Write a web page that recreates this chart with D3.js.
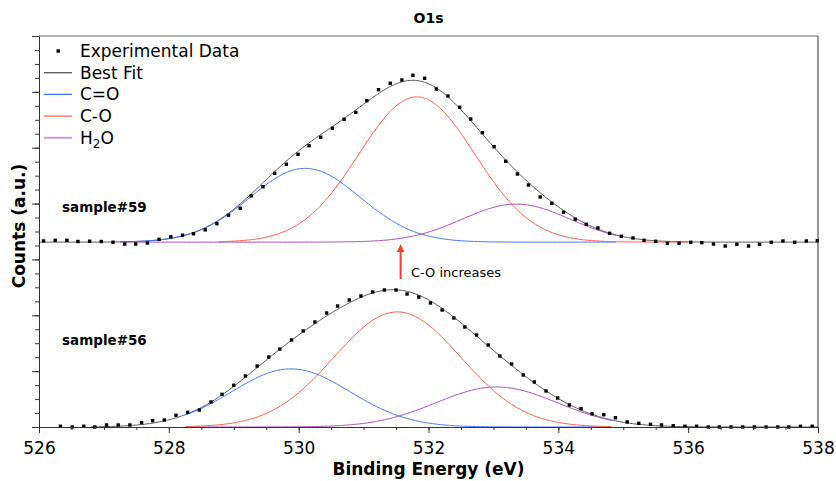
<!DOCTYPE html>
<html>
<head>
<meta charset="utf-8">
<script src="https://cdn.jsdelivr.net/npm/d3@7"></script>
<style>
    body { margin: 0; background: #fff; }
    text { font-family: "DejaVu Sans", sans-serif; }
</style>
</head>
<body>
<div id="chart"></div>
<script>
// sample#59 : binding energy (eV) and counts above its own baseline
var be59 = [526.07, 526.25, 526.43, 526.60, 526.78, 526.96, 527.14, 527.32, 527.49, 527.67,
            527.85, 528.03, 528.21, 528.38, 528.56, 528.74, 528.92, 529.10, 529.27, 529.45,
            529.63, 529.81, 529.99, 530.16, 530.34, 530.52, 530.70, 530.88, 531.05, 531.23,
            531.41, 531.59, 531.76, 531.94, 532.12, 532.30, 532.48, 532.65, 532.83, 533.01,
            533.19, 533.37, 533.54, 533.72, 533.90, 534.08, 534.26, 534.43, 534.61, 534.79,
            534.97, 535.15, 535.32, 535.50, 535.68, 535.86, 536.04, 536.21, 536.39, 536.57,
            536.75, 536.93, 537.10, 537.28, 537.46, 537.64, 537.82, 537.99];
var counts59 = [20, 32, 32, 11, 16, 11, -2, -34, -34, -16,
                50, 95, 124, 149, 220, 330, 482, 607, 829, 992,
                1232, 1393, 1572, 1726, 1877, 2038, 2199, 2324, 2532, 2729,
                2843, 2902, 2987, 2933, 2741, 2616, 2414, 2204, 1959, 1708,
                1447, 1219, 1023, 808, 695, 536, 410, 319, 253, 158,
                104, 74, 32, 15, -21, -21, -3, -10, -34, -70,
                -39, -70, -39, -3, 20, -3, 20, 25];

// sample#56
var be56 = [526.33, 526.51, 526.69, 526.86, 527.04, 527.22, 527.40, 527.58, 527.75, 527.93,
            528.11, 528.29, 528.47, 528.65, 528.82, 529.00, 529.18, 529.36, 529.54, 529.71,
            529.89, 530.07, 530.25, 530.43, 530.60, 530.78, 530.96, 531.14, 531.32, 531.50,
            531.67, 531.85, 532.03, 532.21, 532.39, 532.56, 532.74, 532.92, 533.10, 533.28,
            533.46, 533.63, 533.81, 533.99, 534.17, 534.35, 534.52, 534.70, 534.88, 535.06,
            535.24, 535.42, 535.59, 535.77, 535.95, 536.13, 536.31, 536.48, 536.66, 536.84,
            537.02, 537.20, 537.38, 537.55, 537.73, 537.91];
var counts56 = [13, 0, 13, 0, 36, 36, 36, 77, 113, 125,
                209, 263, 304, 448, 585, 747, 913, 1092, 1253, 1396,
                1558, 1719, 1880, 2041, 2166, 2274, 2345, 2417, 2453, 2453,
                2381, 2327, 2220, 2095, 1951, 1790, 1647, 1468, 1271, 1128,
                931, 806, 645, 519, 394, 328, 238, 220, 166, 90,
                66, 48, 36, 23, 13, 13, 0, 0, 0, 0,
                0, 0, 0, 0, 13, 13];

// vertical offset of each spectrum
var offset59 = 3310;
var offset56 = 0;

// fitted components, order: C=O, C-O, H2O
var peakNames = ["C=O", "C-O", "H2O"];
var center59 = [530.10, 531.82, 533.35];
var height59 = [1320, 2600, 680];
var fwhm59 = [2.00, 2.10, 1.95];
var start59 = [527.25, 528.77, 527.25];
var end59 = [534.90, 536.00, 534.90];

var center56 = [529.88, 531.52, 533.05];
var height56 = [1040, 2060, 716];
var fwhm56 = [2.15, 2.30, 2.20];
var start56 = [528.26, 528.26, 528.26];
var end56 = [534.83, 534.83, 534.83];

var xTicks = [526, 528, 530, 532, 534, 536, 538];
var legendLabels = ["Experimental Data", "Best Fit", "C=O", "C-O", "H2O"];

var W = 836, H = 481;
var margin = {top: 36, right: 18, bottom: 54, left: 39},
    width = W - margin.left - margin.right,
    height = H - margin.top - margin.bottom;

var svg = d3.select("#chart")
    .append("svg")
        .attr("width", W)
        .attr("height", H)
    .append("g")
        .attr("transform", "translate(" + margin.left + "," + margin.top + ")");

var x = d3.scaleLinear().domain([526, 538]).range([0, width]);
var y = d3.scaleLinear().domain([0, 7000]).range([height, 0]);

var color = d3.scaleOrdinal()
    .domain(peakNames)
    .range(["#4171ff", "#ff5a46", "#a54cb6"]);
var legendColor = {"C=O": "#4171ff", "C-O": "#ff6a58", "H2O": "#caa0d4"};

function gauss(e, c, h, w) {
    return h * Math.exp(-4 * Math.LN2 * (e - c) * (e - c) / (w * w));
}

var line = d3.line()
    .x(function(d) { return x(d[0]); })
    .y(function(d) { return y(d[1]); });

function drawSample(be, counts, offset, center, hgt, fwhm, start, end, fitStart) {
    // best fit = sum of components
    var fit = d3.range(fitStart, 538.0001, 0.02).map(function(e) {
        var s = offset;
        for (var k = 0; k < center.length; k++) s += gauss(e, center[k], hgt[k], fwhm[k]);
        return [e, s];
    });
    svg.append("path")
        .attr("d", line(fit))
        .attr("fill", "none")
        .attr("stroke", "#555")
        .attr("stroke-width", 1);

    // components: C=O, H2O, then C-O on top
    [0, 2, 1].forEach(function(k) {
        var pts = d3.range(start[k], end[k] + 0.0001, 0.02).map(function(e) {
            return [e, offset + gauss(e, center[k], hgt[k], fwhm[k])];
        });
        svg.append("path")
            .attr("d", line(pts))
            .attr("fill", "none")
            .attr("stroke", color(peakNames[k]))
            .attr("stroke-width", 1);
    });

    // experimental points
    svg.append("g")
        .selectAll("rect")
        .data(be.map(function(e, i) { return [e, counts[i] + offset]; }))
        .enter().append("rect")
            .attr("x", function(d) { return x(d[0]) - 1.7; })
            .attr("y", function(d) { return y(d[1]) - 1.7; })
            .attr("width", 3.4)
            .attr("height", 3.4)
            .attr("fill", "#000");
}

drawSample(be59, counts59, offset59, center59, height59, fwhm59, start59, end59, 526);
drawSample(be56, counts56, offset56, center56, height56, fwhm56, start56, end56, 526.8);

/* AXES */
var axisColor = "#333";

svg.append("g")
    .attr("transform", "translate(0," + height + ")")
    .call(d3.axisBottom(x).tickValues(d3.range(526, 538.01, 0.5)).tickSize(3).tickFormat(""));
svg.append("g")
    .attr("class", "xaxis")
    .attr("transform", "translate(0," + height + ")")
    .call(d3.axisBottom(x).tickValues(xTicks).tickSize(6).tickPadding(9).tickFormat(d3.format("d")));

svg.append("g")
    .call(d3.axisLeft(y).tickValues(d3.range(0, 7001, 250)).tickSize(4).tickFormat(""));
svg.append("g")
    .call(d3.axisLeft(y).tickValues(d3.range(0, 7001, 1000)).tickSize(7).tickFormat(""));

svg.selectAll(".domain, .tick line").attr("stroke", axisColor);
svg.selectAll(".xaxis text")
    .attr("font-size", "17px")
    .attr("font-family", "DejaVu Sans")
    .attr("fill", "#000");

// top and right frame
svg.append("line")
    .attr("x1", x(526)).attr("x2", x(538))
    .attr("y1", y(7000)).attr("y2", y(7000))
    .attr("stroke", "#666");
svg.append("line")
    .attr("x1", x(538)).attr("x2", x(538))
    .attr("y1", y(7000)).attr("y2", y(0))
    .attr("stroke", axisColor);

/* LABELS */
svg.append("text")
    .attr("x", width / 2)
    .attr("y", -13)
    .attr("text-anchor", "middle")
    .attr("font-weight", "bold")
    .attr("font-size", "14px")
    .text("O1s");

svg.append("text")
    .attr("x", width / 2)
    .attr("y", height + 48)
    .attr("text-anchor", "middle")
    .attr("font-weight", "bold")
    .attr("font-size", "17px")
    .text("Binding Energy (eV)");

svg.append("text")
    .attr("transform", "rotate(-90)")
    .attr("x", -(226 - margin.top))
    .attr("y", -14)
    .attr("text-anchor", "middle")
    .attr("font-weight", "bold")
    .attr("font-size", "17px")
    .text("Counts (a.u.)");

svg.append("text")
    .attr("x", 23)
    .attr("y", y(offset59) - 30)
    .attr("font-weight", "bold")
    .attr("font-size", "13.5px")
    .text("sample#59");

svg.append("text")
    .attr("x", 23)
    .attr("y", y(offset56) - 82)
    .attr("font-weight", "bold")
    .attr("font-size", "13.5px")
    .text("sample#56");

// arrow: C-O increases
svg.append("defs").append("marker")
    .attr("id", "head")
    .attr("viewBox", "0 0 10 10")
    .attr("refX", 5).attr("refY", 5)
    .attr("markerWidth", 4).attr("markerHeight", 4)
    .attr("orient", "auto")
    .append("path")
        .attr("d", "M0,0L10,5L0,10z")
        .attr("fill", "#ff3a20");
svg.append("line")
    .attr("x1", x(531.57)).attr("x2", x(531.57))
    .attr("y1", y(2650)).attr("y2", y(3200))
    .attr("stroke", "#ff3a20")
    .attr("stroke-width", 2)
    .attr("marker-end", "url(#head)");
svg.append("text")
    .attr("x", x(531.73))
    .attr("y", y(2650) - 2)
    .attr("font-size", "13px")
    .text("C-O increases");

/* LEGEND */
var legend = svg.append("g").attr("transform", "translate(5,15)");
legendLabels.forEach(function(name, i) {
    var cy = i * 21.7;
    if (i === 0) {
        legend.append("rect")
            .attr("x", 12.5).attr("y", cy - 1.7)
            .attr("width", 3.4).attr("height", 3.4)
            .attr("fill", "#000");
    } else {
        legend.append("line")
            .attr("x1", 0).attr("x2", 28)
            .attr("y1", cy).attr("y2", cy)
            .attr("stroke", i === 1 ? "#555" : legendColor[name])
            .attr("stroke-width", name === "H2O" ? 2 : 1.3);
    }
    var t = legend.append("text")
        .attr("x", 36)
        .attr("y", cy + 6)
        .attr("font-size", "17px");
    if (name === "H2O") {
        t.append("tspan").text("H");
        t.append("tspan").attr("font-size", "12px").attr("dy", 4).text("2");
        t.append("tspan").attr("dy", -4).text("O");
    } else {
        t.text(name);
    }
});
</script>
</body>
</html>
